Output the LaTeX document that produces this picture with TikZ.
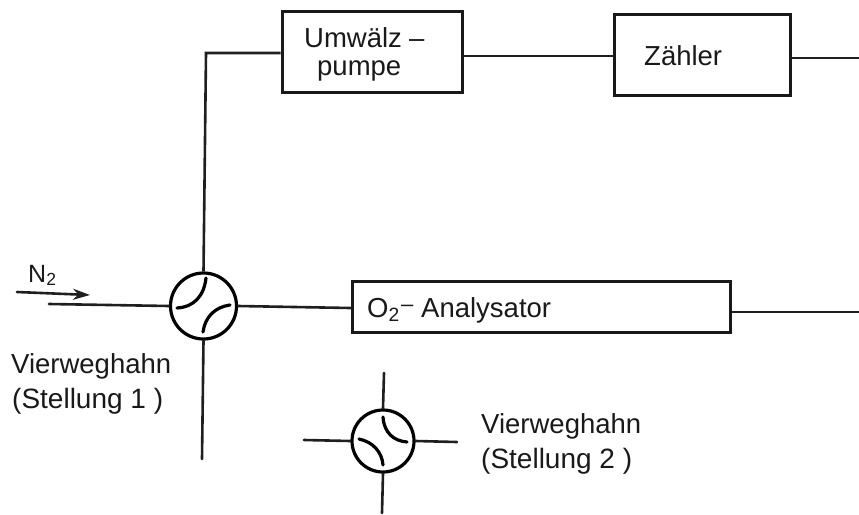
\documentclass[tikz,border=0pt]{standalone}
\usepackage{fontspec}
\setmainfont{Liberation Sans}
\usetikzlibrary{arrows.meta}
\tikzset{
  line/.style={line width=2.6pt,black!88,line cap=round},
  blockbox/.style={draw=black!90,line width=3pt,inner sep=0pt,anchor=north west},
  valve/.style={circle,draw=black,line width=3.2pt,inner sep=0pt},
  lbl/.style={font=\fontsize{27.5}{33}\selectfont,inner sep=0pt,align=left,text=black!90,anchor=base west},
  passage/.style={line width=3.2pt,black,line cap=round}
}
\begin{document}
\begin{tikzpicture}[x=1pt,y=-1pt]
\useasboundingbox (0,0) rectangle (859,514);
\node[blockbox,minimum width=180pt,minimum height=81pt] (pump) at (280.5,9.5) {};
\node[blockbox,minimum width=176pt,minimum height=81pt] (count) at (612.5,12.5) {};
\node[blockbox,minimum width=378pt,minimum height=51pt] (ana) at (350.5,279.5) {};
\node[valve,minimum size=66pt] (v1) at (203.5,306) {};
\node[valve,minimum size=62pt] (v2) at (383,441) {};
\node[lbl] (t1) at (304,47) {Umwälz};
\node[lbl] (t1b) at (409,47) {–};
\node[lbl] (t2) at (317,75) {pumpe};
\node[lbl] (t3) at (644,65) {Zähler};
\node[lbl] (t4) at (367,317) {O\textsubscript{2}};
\node[lbl] (t4b) at (401,311) {\fontsize{22}{22}\selectfont –};
\node[lbl] (t4c) at (421,317) {Analysator};
\node[lbl] (t5) at (11,373) {Vierweghahn};
\node[lbl] (t6) at (12,408) {\fontsize{28}{33}\selectfont (Stellung 1 )};
\node[lbl] (t7) at (481,433) {Vierweghahn};
\node[lbl] (t8) at (481,468) {\fontsize{28}{33}\selectfont (Stellung 2 )};
\node[lbl,font=\fontsize{25}{28}\selectfont] (n2) at (28,282) {N\textsubscript{2}};
\coordinate (corner) at (206,53);
\coordinate (e1) at (859,58);
\coordinate (e2) at (859,312);
\coordinate (in) at (49,304);
\coordinate (down) at (202,459);
\coordinate (a1) at (17,292);
\coordinate (a2) at (90,295);
\coordinate (w1) at (304,440);
\coordinate (w2) at (457,442);
\coordinate (n3) at (384,373);
\coordinate (s3) at (382,513);
\draw[line,line cap=butt] (v1.north) -- (corner) -- (pump.west |- corner);
\draw[line] (pump.east |- 0,56) -- (count.west |- 0,56);
\draw[line] (count.east |- e1) -- (e1);
\draw[line] (ana.east |- e2) -- (e2);
\draw[line] (in) -- (v1.west);
\draw[line] (v1.east) -- (ana.west |- 0,308);
\draw[line] (v1.south) -- (down);
\draw[line,-{Stealth[length=17pt,width=11pt]}] (a1) -- (a2);
\draw[line] (w1) -- (v2.west);
\draw[line] (v2.east) -- (w2);
\draw[line] (n3) -- (v2.north);
\draw[line] (v2.south) -- (s3);
% valve passages
\draw[passage] (206,278) .. controls (204,296) and (194,307) .. (177,308);
\draw[passage] (230,305) .. controls (215,307) and (205,317) .. (203,332);
\draw[passage] (383,417) .. controls (384,433) and (394,441) .. (407,442);
\draw[passage] (359,439) .. controls (373,442) and (382,452) .. (383,465);
\end{tikzpicture}
\end{document}
